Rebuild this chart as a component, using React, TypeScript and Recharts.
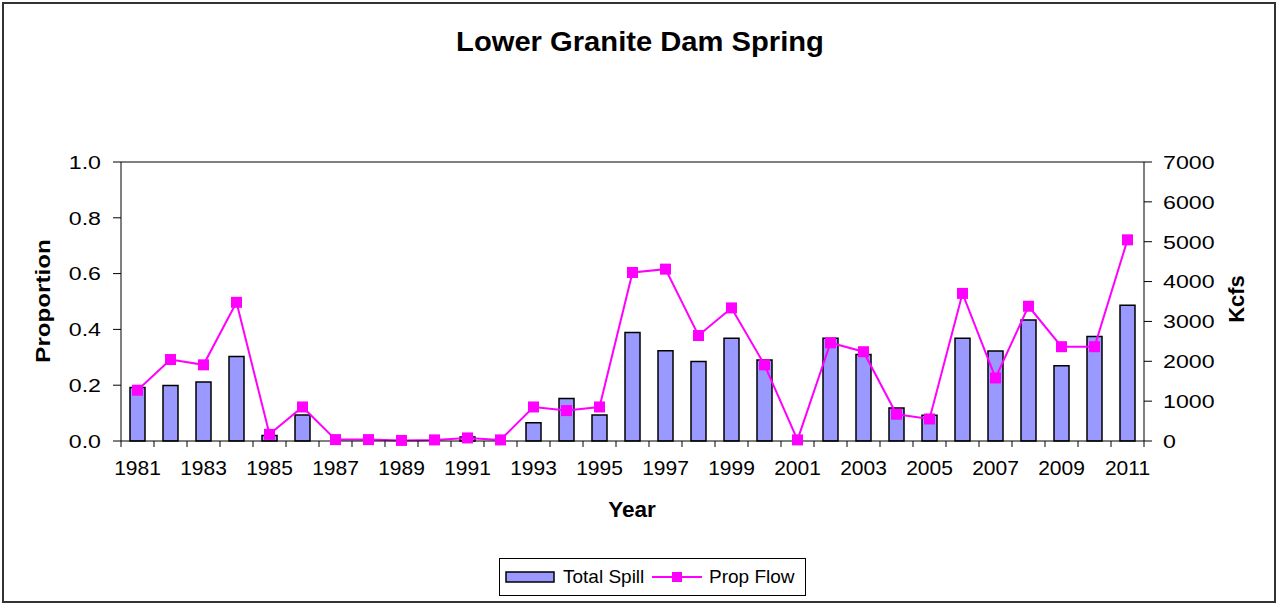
import { Bar, ComposedChart, Line, ReferenceLine, XAxis, YAxis } from 'recharts';

const years = [
  '1981', '1982', '1983', '1984', '1985', '1986', '1987', '1988', '1989', '1990',
  '1991', '1992', '1993', '1994', '1995', '1996', '1997', '1998', '1999', '2000',
  '2001', '2002', '2003', '2004', '2005', '2006', '2007', '2008', '2009', '2010', '2011',
];

// Kcfs (right axis)
const totalSpill = [
  1340, 1390, 1480, 2120, 140, 650, 0, 0, 0, 0,
  100, 0, 460, 1065, 655, 2725, 2265, 1995, 2580, 2035,
  0, 2580, 2170, 830, 645, 2575, 2255, 3035, 1885, 2625, 3405,
];

// proportion (left axis)
const propFlow = [
  0.182, 0.292, 0.273, 0.497, 0.024, 0.122, 0.005, 0.005, 0.002, 0.004,
  0.011, 0.004, 0.122, 0.109, 0.122, 0.604, 0.616, 0.378, 0.477, 0.273,
  0.004, 0.352, 0.32, 0.096, 0.079, 0.529, 0.226, 0.483, 0.338, 0.338, 0.721,
];

const proportionTicks = [0, 0.2, 0.4, 0.6, 0.8, 1.0];
const kcfsTicks = [0, 1000, 2000, 3000, 4000, 5000, 6000, 7000];

const data = years.map((year, i) => ({
  year,
  totalSpill: totalSpill[i],
  propFlow: propFlow[i],
}));

const FONT = '"Liberation Sans", Arial, sans-serif';
const MAGENTA = '#FF00FF';
const BAR_FILL = '#9999FF';

const YearTick = (props: any) => {
  const { x, y, payload, index, width } = props;
  const half = payload?.offset ?? width / years.length / 2;
  const last = index === years.length - 1;
  return (
    <g>
      <line x1={x - half} x2={x - half} y1={y} y2={y + 6} stroke="#000" />
      {last && <line x1={x + half} x2={x + half} y1={y} y2={y + 6} stroke="#000" />}
      {index % 2 === 0 && (
        <text x={x} y={y + 34} textAnchor="middle" fontSize={21} fontFamily={FONT} fill="#000">
          {payload.value}
        </text>
      )}
    </g>
  );
};

const LeftTick = ({ x, y, payload }: any) => (
  <text
    transform={`translate(${x},${y}) scale(1.22,1)`}
    textAnchor="end"
    dy="0.36em"
    fontSize={19}
    fontFamily={FONT}
    fill="#000"
  >
    {Number(payload.value).toFixed(1)}
  </text>
);

const RightTick = ({ x, y, payload }: any) => (
  <text
    transform={`translate(${x},${y}) scale(1.22,1)`}
    textAnchor="start"
    dy="0.36em"
    fontSize={19}
    fontFamily={FONT}
    fill="#000"
  >
    {payload.value}
  </text>
);

const SquareDot = (props: any) => {
  const { cx, cy, index } = props;
  if (cx == null || cy == null) return <g key={index} />;
  return <rect key={index} x={cx - 5.5} y={cy - 5.5} width={11} height={11} fill={MAGENTA} />;
};

const Legend = () => (
  <div
    style={{
      position: 'absolute',
      left: 499,
      top: 558,
      width: 307,
      height: 38,
      border: '1px solid #000',
      boxSizing: 'border-box',
    }}
  >
    <svg width={307} height={38} style={{ position: 'absolute', left: -1, top: -1 }}>
      <rect x={7} y={14} width={48} height={10} fill={BAR_FILL} stroke="#000" strokeWidth={1.5} />
      <text x={64} y={25} fontSize={19} fontFamily={FONT} fill="#000">Total Spill</text>
      <line x1={153} x2={203} y1={19} y2={19} stroke={MAGENTA} strokeWidth={2} />
      <rect x={173} y={14} width={10} height={10} fill={MAGENTA} />
      <text x={210} y={25} fontSize={19} fontFamily={FONT} fill="#000">Prop Flow</text>
    </svg>
  </div>
);

export default function App() {
  return (
    <div style={{ position: 'absolute', left: 0, top: 0, width: 1278, height: 604, background: '#fff', fontFamily: FONT }}>
      <div
        style={{
          position: 'absolute',
          left: 2,
          top: 2,
          width: 1274,
          height: 601,
          border: '2px solid #333',
          boxSizing: 'border-box',
        }}
      />
      <div
        style={{
          position: 'absolute',
          left: 640,
          top: 27,
          transform: 'translateX(-50%) scaleX(1.08)',
          fontSize: 27,
          fontWeight: 'bold',
          whiteSpace: 'nowrap',
        }}
      >
        Lower Granite Dam Spring
      </div>

      <ComposedChart
        width={1278}
        height={604}
        data={data}
        margin={{ top: 162, right: 0, left: 0, bottom: 123 }}
        style={{ position: 'absolute', left: 0, top: 0 }}
      >
        <XAxis
          dataKey="year"
          interval={0}
          height={40}
          tickSize={0}
          tickMargin={0}
          tickLine={false}
          axisLine={{ stroke: '#000' }}
          tick={<YearTick />}
        />
        <YAxis
          yAxisId="left"
          orientation="left"
          width={121}
          domain={[0, 1]}
          ticks={proportionTicks}
          tickSize={8}
          tickMargin={12}
          axisLine={{ stroke: '#000' }}
          tickLine={{ stroke: '#000' }}
          tick={<LeftTick />}
        />
        <YAxis
          yAxisId="right"
          orientation="right"
          width={134}
          domain={[0, 7000]}
          ticks={kcfsTicks}
          tickSize={8}
          tickMargin={11}
          axisLine={{ stroke: '#000' }}
          tickLine={{ stroke: '#000' }}
          tick={<RightTick />}
        />
        <ReferenceLine yAxisId="left" y={1} stroke="#000" />
        <Bar
          yAxisId="right"
          dataKey="totalSpill"
          name="Total Spill"
          fill={BAR_FILL}
          stroke="#000"
          strokeWidth={1.5}
          barSize={15}
          isAnimationActive={false}
        />
        <Line
          yAxisId="left"
          type="linear"
          dataKey="propFlow"
          name="Prop Flow"
          stroke={MAGENTA}
          strokeWidth={2}
          dot={SquareDot}
          activeDot={false}
          isAnimationActive={false}
        />
      </ComposedChart>

      <div
        style={{
          position: 'absolute',
          left: 43,
          top: 301,
          transform: 'translate(-50%, -50%) rotate(-90deg) scaleX(1.15)',
          fontSize: 21,
          fontWeight: 'bold',
          whiteSpace: 'nowrap',
        }}
      >
        Proportion
      </div>
      <div
        style={{
          position: 'absolute',
          left: 1237,
          top: 299,
          transform: 'translate(-50%, -50%) rotate(-90deg)',
          fontSize: 22,
          fontWeight: 'bold',
          whiteSpace: 'nowrap',
        }}
      >
        Kcfs
      </div>
      <div
        style={{
          position: 'absolute',
          left: 632,
          top: 510,
          transform: 'translate(-50%, -50%)',
          fontSize: 22.5,
          fontWeight: 'bold',
          whiteSpace: 'nowrap',
        }}
      >
        Year
      </div>
      <Legend />
    </div>
  );
}
